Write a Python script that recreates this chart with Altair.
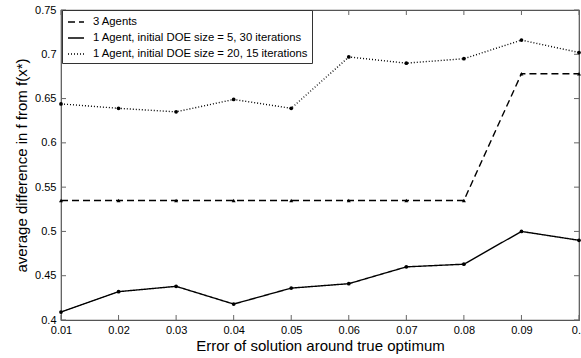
import altair as alt
import pandas as pd

x_vals = [0.01, 0.02, 0.03, 0.04, 0.05, 0.06, 0.07, 0.08, 0.09, 0.10]
agents3 = [0.535, 0.535, 0.535, 0.535, 0.535, 0.535, 0.535, 0.535, 0.678, 0.678]
doe5 = [0.409, 0.432, 0.438, 0.418, 0.436, 0.441, 0.460, 0.463, 0.500, 0.490]
doe20 = [0.644, 0.639, 0.635, 0.649, 0.639, 0.697, 0.690, 0.695, 0.716, 0.702]

series_names = [
    "3 Agents",
    "1 Agent, initial DOE size = 5, 30 iterations",
    "1 Agent, initial DOE size = 20, 15 iterations",
]
x_ticks = [0.01, 0.02, 0.03, 0.04, 0.05, 0.06, 0.07, 0.08, 0.09, 0.10]
y_ticks = [0.4, 0.45, 0.5, 0.55, 0.6, 0.65, 0.7, 0.75]

rows = []
for name, vals in zip(series_names, [agents3, doe5, doe20]):
    for xv, yv in zip(x_vals, vals):
        rows.append({"x": xv, "y": yv, "series": name})
df = pd.DataFrame(rows)

FONT = "Liberation Sans"
W, H = 518, 310

xscale = alt.Scale(domain=[0.01, 0.1], nice=False, zero=False)
yscale = alt.Scale(domain=[0.4, 0.75], nice=False, zero=False)

xaxis = alt.Axis(values=x_ticks, format="~g", title="Error of solution around true optimum",
                 ticks=False, domain=False, grid=False, labelPadding=4, titlePadding=3,
                 labelFlush=False)
yaxis = alt.Axis(values=y_ticks, format="~g", title="average difference in f from f(x*)",
                 ticks=False, domain=False, grid=False, labelPadding=5, titlePadding=5,
                 labelFlush=False)

base = alt.Chart(df)

lines = base.mark_line(color="black", strokeWidth=1.4).encode(
    x=alt.X("x:Q", scale=xscale, axis=xaxis),
    y=alt.Y("y:Q", scale=yscale, axis=yaxis),
    strokeDash=alt.StrokeDash(
        "series:N",
        scale=alt.Scale(domain=series_names, range=[[7, 4], [1, 0], [1, 2]]),
        legend=alt.Legend(
            title=None, orient="none", legendX=1, legendY=0,
            symbolType="stroke", symbolSize=256, symbolStrokeColor="black",
            symbolStrokeWidth=1.5, labelFont=FONT, labelFontSize=11.3,
            labelLimit=400, fillColor="white", strokeColor="#333",
            padding=3, rowPadding=1, symbolOffset=2, labelOffset=8,
        ),
    ),
    detail="series:N",
)

tri_points = base.transform_filter(alt.datum.series == series_names[0]).mark_point(
    filled=True, color="black", size=16, opacity=1, shape="triangle-up"
).encode(x=alt.X("x:Q", scale=xscale), y=alt.Y("y:Q", scale=yscale))

dot_points = base.transform_filter(alt.datum.series != series_names[0]).mark_point(
    filled=True, color="black", size=14, opacity=1, shape="circle"
).encode(x=alt.X("x:Q", scale=xscale), y=alt.Y("y:Q", scale=yscale))

xt = pd.DataFrame({"t": x_ticks})
yt = pd.DataFrame({"t": y_ticks})
tick_color = "#666"
bt = alt.Chart(xt).mark_rule(color=tick_color).encode(
    x=alt.X("t:Q", scale=xscale), y=alt.value(H), y2=alt.value(H - 5))
tt = alt.Chart(xt).mark_rule(color=tick_color).encode(
    x=alt.X("t:Q", scale=xscale), y=alt.value(0), y2=alt.value(5))
lt = alt.Chart(yt).mark_rule(color=tick_color).encode(
    y=alt.Y("t:Q", scale=yscale), x=alt.value(0), x2=alt.value(5))
rt = alt.Chart(yt).mark_rule(color=tick_color).encode(
    y=alt.Y("t:Q", scale=yscale), x=alt.value(W), x2=alt.value(W - 5))

chart = alt.layer(bt, tt, lt, rt, lines, tri_points, dot_points).properties(
    width=W, height=H,
    autosize=alt.AutoSizeParams(type="none"),
    padding={"left": 61, "top": 10, "right": 2, "bottom": 38},
    background="white",
).configure_view(stroke="#555", strokeWidth=1.2).configure_axis(
    labelFont=FONT, labelFontSize=11, labelColor="black",
    titleFont=FONT, titleFontSize=15, titleFontWeight="normal", titleColor="black",
)

chart.save("out.html", embed_options={"renderer": "svg", "actions": False})
